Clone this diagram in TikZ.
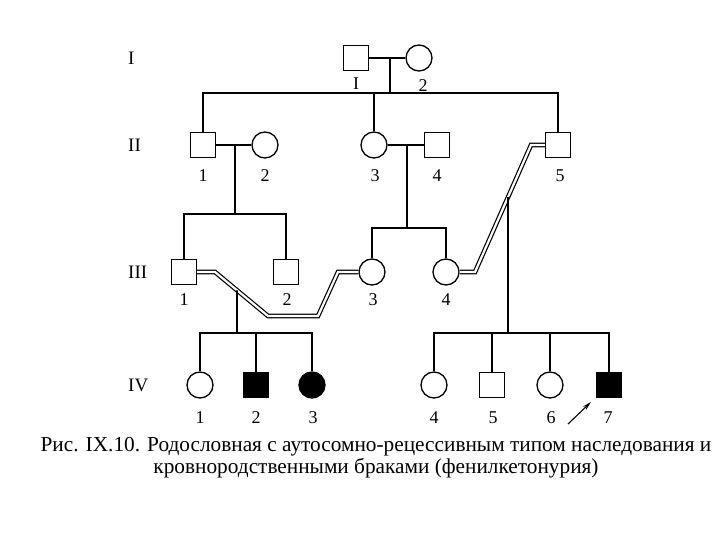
\documentclass[tikz,border=0pt]{standalone}
\usepackage{fontspec}
\setmainfont{Liberation Serif}
\usetikzlibrary{arrows.meta,calc}

\begin{document}
\begin{tikzpicture}[x=1pt, y=-1pt,
  male/.style={draw, line width=1.3pt, minimum size=25pt, inner sep=0pt, fill=white},
  female/.style={draw, circle, line width=1.3pt, minimum size=26pt, inner sep=0pt, fill=white},
  sick/.style={fill=black},
  num/.style={font=\fontsize{18}{20}\selectfont, inner sep=1pt},
  gen/.style={font=\fontsize{19}{21}\selectfont, anchor=west, inner sep=0pt},
  line/.style={line width=1.6pt},
  kin/.style={line width=1.2pt, double=white, double distance=2.2pt}
]
  \useasboundingbox (0,0) rectangle (720,540);

  % generation numbers
  \node[gen] (genI)   at (128,58)  {I};
  \node[gen] (genII)  at (128,145) {II};
  \node[gen] (genIII) at (128,272) {III};
  \node[gen] (genIV)  at (128,385) {IV};

  % generation I
  \node[male]   (I1) at (356,58) {};
  \node[female] (I2) at (419,58) {};
  \node[num] at (356,84) {I};
  \node[num] at (423,86) {2};

  % generation II
  \node[male]   (II1) at (203,145) {};
  \node[female] (II2) at (265,145) {};
  \node[female] (II3) at (374,145) {};
  \node[male]   (II4) at (437,145) {};
  \node[male]   (II5) at (558,145) {};
  \foreach \x/\t in {203/1, 265/2, 375/3, 437/4, 560/5}
    \node[num] at (\x,176) {\t};

  % generation III
  \node[male]   (III1) at (184,272) {};
  \node[male]   (III2) at (286,272) {};
  \node[female] (III3) at (372,272) {};
  \node[female] (III4) at (446,272) {};
  \foreach \x/\t in {184/1, 287/2, 373/3, 446/4}
    \node[num] at (\x,300) {\t};

  % generation IV
  \node[female]      (IV1) at (200,385) {};
  \node[male,sick]   (IV2) at (256,385) {};
  \node[female,sick] (IV3) at (312,385) {};
  \node[female]      (IV4) at (434,385) {};
  \node[male]        (IV5) at (492,385) {};
  \node[female]      (IV6) at (550,385) {};
  \node[male,sick]   (IV7) at (609,385) {};
  \foreach \x/\t in {200/1, 256/2, 313/3, 434/4, 493/5, 551/6, 608/7}
    \node[num] at (\x,418) {\t};

  % marriages and sibships
  \coordinate (mI) at (390,58);
  \coordinate (sI) at (390,93);
  \draw[line] (I1) -- (I2);
  \draw[line] (mI) -- (sI);
  \draw[line] (II1.north) |- (sI) -| (II5.north);
  \draw[line] (II3.north) -- (II3.north |- sI);

  \coordinate (mII12) at (235,145);
  \coordinate (sII12) at (235,214);
  \draw[line] (II1) -- (II2);
  \draw[line] (mII12) -- (sII12);
  \draw[line] (III1.north) |- (sII12) -| (III2.north);

  \coordinate (mII34) at (407,145);
  \coordinate (sII34) at (407,228);
  \draw[line] (II3) -- (II4);
  \draw[line] (mII34) -- (sII34);
  \draw[line] (III3.north) |- (sII34) -| (III4.north);

  % consanguineous marriages
  \coordinate (k1a) at (215,272);
  \coordinate (k1b) at (268,316);
  \coordinate (k1c) at (318,316);
  \coordinate (k1d) at (338,272);
  \coordinate (mIII13) at ($(k1a)!{22/53}!(k1b)$);
  \coordinate (sIII13) at (237,333);
  \draw[kin] (III1.east) -- (k1a) -- (k1b) -- (k1c) -- (k1d) -- (III3.west);
  \draw[line] (mIII13) -- (sIII13);
  \draw[line] (IV1.north) |- (sIII13) -| (IV3.north);
  \draw[line] (IV2.north) -- (IV2.north |- sIII13);

  \coordinate (k2a) at (475,272);
  \coordinate (k2b) at (531,145);
  \coordinate (mIII45) at ($(k2a)!{33/56}!(k2b)$);
  \coordinate (sIII45) at (508,333);
  \draw[kin] (III4.east) -- (k2a) -- (k2b) -- (II5.west);
  \draw[line] (mIII45) -- (sIII45);
  \draw[line] (IV4.north) |- (sIII45) -| (IV7.north);
  \draw[line] (IV5.north) -- (IV5.north |- sIII45);
  \draw[line] (IV6.north) -- (IV6.north |- sIII45);

  % proband
  \coordinate (pTail) at (568,424);
  \coordinate (pTip) at (591,402);
  \draw[line width=1.1pt, -{Stealth[length=9pt,width=4.5pt]}] (pTail) -- (pTip);

  % caption
  \node[font=\fontsize{21.3}{22}\selectfont, align=center, inner sep=0pt] (cap) at (376,458)
    {Рис. IX.10. Родословная с аутосомно-рецессивным типом наследования и\\
     кровнородственными браками (фенилкетонурия)};
\end{tikzpicture}
\end{document}
